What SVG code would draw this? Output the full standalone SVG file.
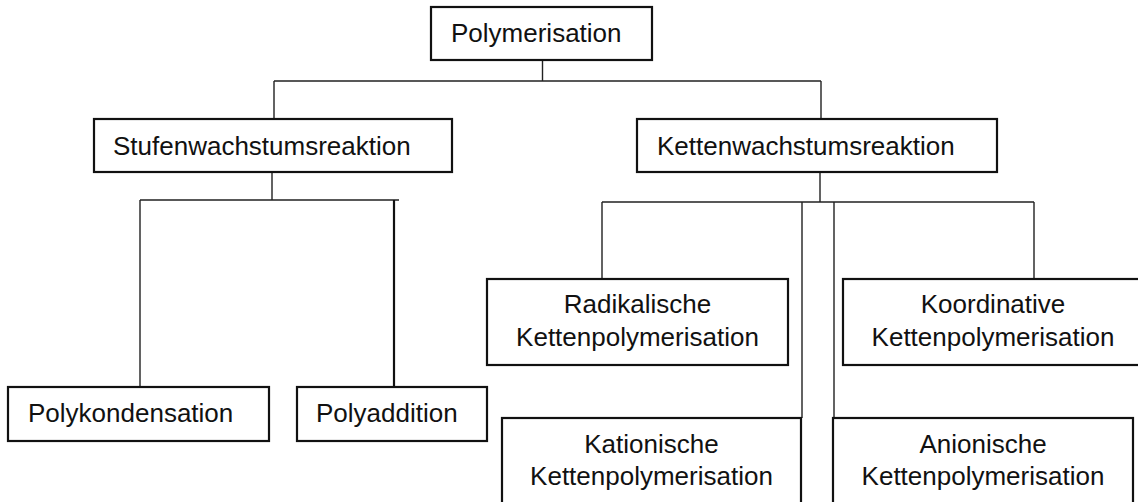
<svg xmlns="http://www.w3.org/2000/svg" width="1138" height="502" viewBox="0 0 1138 502">
<style>
.box{fill:#fff;stroke:#111;stroke-width:2.2}
.t{font-family:"Liberation Sans",Arial,sans-serif;font-size:26px;fill:#111}
.c{text-anchor:middle}
.ln{stroke:#222;stroke-width:1.4;fill:none}
.thick{stroke:#111;stroke-width:2.2;fill:none}
</style>
<rect width="1138" height="502" fill="#fff"/>
<g id="connectors">
<path class="ln" d="M542.5 60V81M274 81H821M274 81V119M821 81V119"/>
<path class="ln" d="M272 172V200M140 200H399M140 200V387"/>
<path class="thick" d="M394 200V387"/>
<path class="ln" d="M820 172V202M602 202H1034M602 202V279M802 202V418M834 202V418M1034 202V279"/>
</g>
<g id="polymerisation">
<rect class="box" x="431" y="7" width="221" height="53"/>
<text class="t" x="451" y="42">Polymerisation</text>
</g>
<g id="stufenwachstumsreaktion">
<rect class="box" x="94" y="119" width="358" height="53"/>
<text class="t" x="113" y="155">Stufenwachstumsreaktion</text>
</g>
<g id="kettenwachstumsreaktion">
<rect class="box" x="637" y="119" width="360" height="53"/>
<text class="t" x="657" y="155">Kettenwachstumsreaktion</text>
</g>
<g id="polykondensation">
<rect class="box" x="8" y="387" width="261" height="54"/>
<text class="t" x="28" y="422">Polykondensation</text>
</g>
<g id="polyaddition">
<rect class="box" x="297" y="387" width="190" height="54"/>
<text class="t" x="316" y="422">Polyaddition</text>
</g>
<g id="radikalische">
<rect class="box" x="487" y="279" width="301" height="86"/>
<text class="t c" x="637.5" y="313">Radikalische</text>
<text class="t c" x="637.5" y="346">Kettenpolymerisation</text>
</g>
<g id="koordinative">
<rect class="box" x="843" y="279" width="305" height="86"/>
<text class="t c" x="993" y="313">Koordinative</text>
<text class="t c" x="993" y="346">Kettenpolymerisation</text>
</g>
<g id="kationische">
<rect class="box" x="502" y="418" width="299" height="100"/>
<text class="t c" x="651.5" y="453">Kationische</text>
<text class="t c" x="651.5" y="485">Kettenpolymerisation</text>
</g>
<g id="anionische">
<rect class="box" x="833" y="418" width="300" height="100"/>
<text class="t c" x="983" y="453">Anionische</text>
<text class="t c" x="983" y="485">Kettenpolymerisation</text>
</g>
</svg>
